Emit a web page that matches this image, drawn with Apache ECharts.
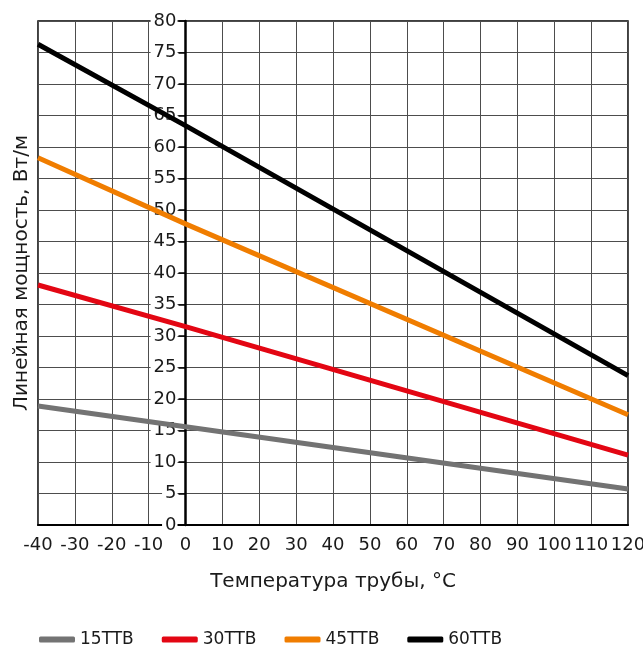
<!DOCTYPE html>
<html lang="ru">
<head>
    <meta charset="UTF-8">
    <title>Линейная мощность</title>
    <script src="https://cdn.jsdelivr.net/npm/echarts@6/dist/echarts.min.js"></script>
    <style>
        html, body { margin: 0; padding: 0; background: #fff; }
        #chart { width: 643px; height: 651px; }
    </style>
</head>
<body>
<div id="chart"></div>
<script>
    // данные: температура трубы -> Вт/м
    var temps = [-40, 0, 120];
    var names = ['15TTB', '30TTB', '45TTB', '60TTB'];
    var colors = ['#737373', '#e30613', '#f07d00', '#000000'];
    var s15 = [18.9, 15.6, 5.7];
    var s30 = [38.1, 31.5, 11.1];
    var s45 = [58.3, 47.8, 17.5];
    var s60 = [76.3, 63.4, 23.7];
    var values = [s15, s30, s45, s60];

    var font = 'DejaVu Sans';
    var txt = '#1a1a1a';
    var chart = echarts.init(document.getElementById('chart'));

    var series = names.map(function (n, i) {
        return {
            name: n,
            type: 'line',
            data: temps.map(function (t, k) { return [t, values[i][k]]; }),
            showSymbol: false,
            lineStyle: { color: colors[i], width: 5 },
            itemStyle: { color: colors[i] },
            z: 5
        };
    });

    // ось Y стоит на нуле: сдвигаем её внутрь сетки
    var left = 38, right = 15;
    var plotW = 643 - left - right;
    var yShift = plotW * 40 / 160;

    chart.setOption({
        animation: false,
        grid: {
            left: left, right: right, top: 21, bottom: 126,
            outerBoundsMode: 'none',
            containLabel: false,
            show: true, borderColor: '#000', borderWidth: 1.5
        },
        legend: {
            top: 631,
            left: 34,
            padding: [0, 5],
            icon: 'roundRect',
            itemWidth: 36,
            itemHeight: 6,
            itemGap: 28,
            textStyle: { fontFamily: font, fontSize: 17, color: txt },
            data: names
        },
        xAxis: {
            type: 'value',
            min: -40, max: 120, interval: 10,
            name: 'Температура трубы, °C',
            nameLocation: 'middle',
            nameGap: 47,
            nameTextStyle: { fontFamily: font, fontSize: 20, color: txt },
            axisLine: { onZero: false, lineStyle: { color: '#000', width: 2 } },
            axisTick: { show: false },
            axisLabel: { fontFamily: font, fontSize: 18, color: txt, margin: 11 },
            splitLine: { show: true, lineStyle: { color: '#4d4d4d', width: 1 } }
        },
        yAxis: {
            type: 'value',
            min: 0, max: 80, interval: 5,
            offset: -yShift,
            name: 'Линейная мощность, Вт/м',
            nameLocation: 'middle',
            nameGap: 154,
            nameTextStyle: { fontFamily: font, fontSize: 20, color: txt },
            axisLine: { show: true, onZero: false, lineStyle: { color: '#000', width: 2.5 } },
            axisTick: { show: true, length: 7, lineStyle: { color: '#000', width: 1.5 } },
            axisLabel: {
                fontFamily: font, fontSize: 18, color: txt, margin: 8,
                backgroundColor: '#fff', padding: [0, 1, 0, 3]
            },
            splitLine: { show: true, lineStyle: { color: '#4d4d4d', width: 1 } }
        },
        series: series
    });
</script>
</body>
</html>
